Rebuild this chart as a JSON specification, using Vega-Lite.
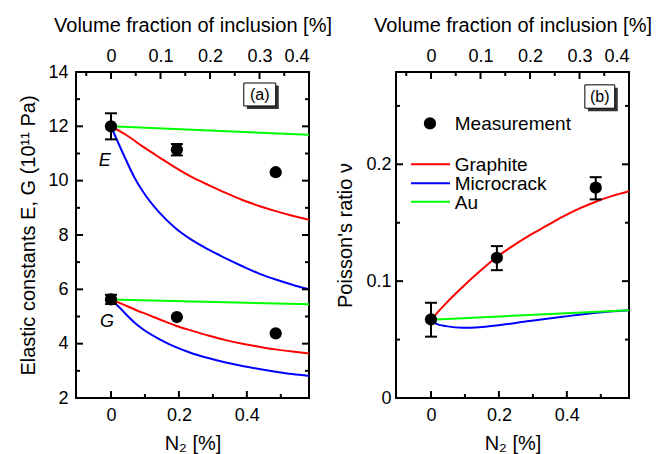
{
  "$schema": "https://vega.github.io/schema/vega-lite/v6.json",
  "padding": {"left": 17, "top": 14, "right": 5, "bottom": 0},
  "spacing": 1,
  "config": {
    "view": {"stroke": "black", "strokeWidth": 2},
    "font": "Liberation Sans",
    "axis": {"domain": false, "grid": false, "ticks": false, "labelFont": "Liberation Sans", "labelFontSize": 18, "labelColor": "black", "titleFont": "Liberation Sans", "titleFontSize": 20, "titleFontWeight": "normal", "titleColor": "black", "labelPadding": 8},
    "text": {"font": "Liberation Sans"},
    "tick": {"thickness": 2, "color": "black", "opacity": 1}
  },
  "datasets": {
    "ticksX": [
      {"v": 0, "kind": "major"}, {"v": 0.1, "kind": "minor"}, {"v": 0.2, "kind": "major"},
      {"v": 0.3, "kind": "minor"}, {"v": 0.4, "kind": "major"}, {"v": 0.5, "kind": "minor"}
    ],
    "ticksVol": [
      {"v": -0.05, "kind": "minor"}, {"v": 0, "kind": "major"}, {"v": 0.05, "kind": "minor"},
      {"v": 0.1, "kind": "major"}, {"v": 0.15, "kind": "minor"}, {"v": 0.2, "kind": "major"},
      {"v": 0.25, "kind": "minor"}, {"v": 0.3, "kind": "major"}, {"v": 0.35, "kind": "minor"}
    ],
    "ticksYA": [
      {"v": 3, "kind": "minor"}, {"v": 4, "kind": "major"}, {"v": 5, "kind": "minor"},
      {"v": 6, "kind": "major"}, {"v": 7, "kind": "minor"}, {"v": 8, "kind": "major"},
      {"v": 9, "kind": "minor"}, {"v": 10, "kind": "major"}, {"v": 11, "kind": "minor"},
      {"v": 12, "kind": "major"}, {"v": 13, "kind": "minor"}
    ],
    "ticksYB": [
      {"v": 0.05, "kind": "minor"}, {"v": 0.1, "kind": "major"}, {"v": 0.15, "kind": "minor"},
      {"v": 0.2, "kind": "major"}, {"v": 0.25, "kind": "minor"}
    ],
    "curvesA": [
      {"x": 0, "y": 12, "model": "Graphite", "prop": "E"},
      {"x": 0.044, "y": 11.69, "model": "Graphite", "prop": "E"},
      {"x": 0.093, "y": 11.26, "model": "Graphite", "prop": "E"},
      {"x": 0.142, "y": 10.86, "model": "Graphite", "prop": "E"},
      {"x": 0.191, "y": 10.47, "model": "Graphite", "prop": "E"},
      {"x": 0.24, "y": 10.12, "model": "Graphite", "prop": "E"},
      {"x": 0.289, "y": 9.83, "model": "Graphite", "prop": "E"},
      {"x": 0.338, "y": 9.55, "model": "Graphite", "prop": "E"},
      {"x": 0.387, "y": 9.29, "model": "Graphite", "prop": "E"},
      {"x": 0.436, "y": 9.07, "model": "Graphite", "prop": "E"},
      {"x": 0.485, "y": 8.88, "model": "Graphite", "prop": "E"},
      {"x": 0.534, "y": 8.71, "model": "Graphite", "prop": "E"},
      {"x": 0.583, "y": 8.56, "model": "Graphite", "prop": "E"},
      {"x": 0, "y": 12, "model": "Microcrack", "prop": "E"},
      {"x": 0.015, "y": 11.57, "model": "Microcrack", "prop": "E"},
      {"x": 0.044, "y": 10.77, "model": "Microcrack", "prop": "E"},
      {"x": 0.069, "y": 10.12, "model": "Microcrack", "prop": "E"},
      {"x": 0.093, "y": 9.62, "model": "Microcrack", "prop": "E"},
      {"x": 0.142, "y": 8.83, "model": "Microcrack", "prop": "E"},
      {"x": 0.191, "y": 8.24, "model": "Microcrack", "prop": "E"},
      {"x": 0.24, "y": 7.8, "model": "Microcrack", "prop": "E"},
      {"x": 0.289, "y": 7.45, "model": "Microcrack", "prop": "E"},
      {"x": 0.338, "y": 7.14, "model": "Microcrack", "prop": "E"},
      {"x": 0.387, "y": 6.85, "model": "Microcrack", "prop": "E"},
      {"x": 0.436, "y": 6.58, "model": "Microcrack", "prop": "E"},
      {"x": 0.485, "y": 6.36, "model": "Microcrack", "prop": "E"},
      {"x": 0.534, "y": 6.17, "model": "Microcrack", "prop": "E"},
      {"x": 0.583, "y": 6.0, "model": "Microcrack", "prop": "E"},
      {"x": 0, "y": 12, "model": "Au", "prop": "E"},
      {"x": 0.583, "y": 11.69, "model": "Au", "prop": "E"},
      {"x": 0, "y": 5.63, "model": "Au", "prop": "G"},
      {"x": 0.583, "y": 5.45, "model": "Au", "prop": "G"},
      {"x": 0, "y": 5.63, "model": "Graphite", "prop": "G"},
      {"x": 0.025, "y": 5.5, "model": "Graphite", "prop": "G"},
      {"x": 0.093, "y": 5.14, "model": "Graphite", "prop": "G"},
      {"x": 0.142, "y": 4.9, "model": "Graphite", "prop": "G"},
      {"x": 0.191, "y": 4.66, "model": "Graphite", "prop": "G"},
      {"x": 0.24, "y": 4.47, "model": "Graphite", "prop": "G"},
      {"x": 0.289, "y": 4.29, "model": "Graphite", "prop": "G"},
      {"x": 0.338, "y": 4.13, "model": "Graphite", "prop": "G"},
      {"x": 0.387, "y": 4.0, "model": "Graphite", "prop": "G"},
      {"x": 0.436, "y": 3.89, "model": "Graphite", "prop": "G"},
      {"x": 0.485, "y": 3.79, "model": "Graphite", "prop": "G"},
      {"x": 0.534, "y": 3.71, "model": "Graphite", "prop": "G"},
      {"x": 0.583, "y": 3.64, "model": "Graphite", "prop": "G"},
      {"x": 0, "y": 5.63, "model": "Microcrack", "prop": "G"},
      {"x": 0.025, "y": 5.33, "model": "Microcrack", "prop": "G"},
      {"x": 0.069, "y": 4.78, "model": "Microcrack", "prop": "G"},
      {"x": 0.093, "y": 4.54, "model": "Microcrack", "prop": "G"},
      {"x": 0.142, "y": 4.17, "model": "Microcrack", "prop": "G"},
      {"x": 0.191, "y": 3.87, "model": "Microcrack", "prop": "G"},
      {"x": 0.24, "y": 3.64, "model": "Microcrack", "prop": "G"},
      {"x": 0.289, "y": 3.46, "model": "Microcrack", "prop": "G"},
      {"x": 0.338, "y": 3.31, "model": "Microcrack", "prop": "G"},
      {"x": 0.387, "y": 3.18, "model": "Microcrack", "prop": "G"},
      {"x": 0.436, "y": 3.07, "model": "Microcrack", "prop": "G"},
      {"x": 0.485, "y": 2.97, "model": "Microcrack", "prop": "G"},
      {"x": 0.534, "y": 2.88, "model": "Microcrack", "prop": "G"},
      {"x": 0.583, "y": 2.81, "model": "Microcrack", "prop": "G"}
    ],
    "measA": [
      {"x": 0, "y": 12.0},
      {"x": 0.194, "y": 11.14},
      {"x": 0.485, "y": 10.31},
      {"x": 0, "y": 5.63},
      {"x": 0.194, "y": 4.98},
      {"x": 0.485, "y": 4.38}
    ],
    "errA": [
      {"x": 0, "lo": 11.52, "hi": 12.48},
      {"x": 0.194, "lo": 10.93, "hi": 11.35},
      {"x": 0, "lo": 5.46, "hi": 5.8}
    ],
    "labelsA": [
      {"x": -0.018, "y": 10.72, "t": "E"},
      {"x": -0.012, "y": 4.79, "t": "G"}
    ],
    "boxA": [
      {"x": 0.4, "x2": 0.494, "y": 13.5, "y2": 12.64, "kind": "shadow"},
      {"x": 0.391, "x2": 0.485, "y": 13.595, "y2": 12.75, "kind": "box"}
    ],
    "boxTextA": [{"x": 0.438, "y": 13.17, "t": "(a)"}],
    "curvesB": [
      {"x": 0, "y": 0.067, "model": "Graphite"},
      {"x": 0.044, "y": 0.081, "model": "Graphite"},
      {"x": 0.093, "y": 0.095, "model": "Graphite"},
      {"x": 0.142, "y": 0.108, "model": "Graphite"},
      {"x": 0.191, "y": 0.12, "model": "Graphite"},
      {"x": 0.24, "y": 0.13, "model": "Graphite"},
      {"x": 0.289, "y": 0.139, "model": "Graphite"},
      {"x": 0.338, "y": 0.147, "model": "Graphite"},
      {"x": 0.387, "y": 0.155, "model": "Graphite"},
      {"x": 0.436, "y": 0.162, "model": "Graphite"},
      {"x": 0.485, "y": 0.168, "model": "Graphite"},
      {"x": 0.534, "y": 0.173, "model": "Graphite"},
      {"x": 0.583, "y": 0.177, "model": "Graphite"},
      {"x": 0, "y": 0.067, "model": "Microcrack"},
      {"x": 0.02, "y": 0.063, "model": "Microcrack"},
      {"x": 0.044, "y": 0.0615, "model": "Microcrack"},
      {"x": 0.093, "y": 0.0601, "model": "Microcrack"},
      {"x": 0.142, "y": 0.0606, "model": "Microcrack"},
      {"x": 0.191, "y": 0.062, "model": "Microcrack"},
      {"x": 0.289, "y": 0.0658, "model": "Microcrack"},
      {"x": 0.387, "y": 0.0695, "model": "Microcrack"},
      {"x": 0.485, "y": 0.073, "model": "Microcrack"},
      {"x": 0.583, "y": 0.0752, "model": "Microcrack"},
      {"x": 0, "y": 0.067, "model": "Au"},
      {"x": 0.583, "y": 0.0752, "model": "Au"}
    ],
    "measB": [
      {"x": 0, "y": 0.0672},
      {"x": 0.194, "y": 0.12},
      {"x": 0.485, "y": 0.18}
    ],
    "errB": [
      {"x": 0, "lo": 0.0525, "hi": 0.0815},
      {"x": 0.194, "lo": 0.1094, "hi": 0.13},
      {"x": 0.485, "lo": 0.17, "hi": 0.189}
    ],
    "boxB": [
      {"x": 0.462, "x2": 0.55, "y": 0.2655, "y2": 0.2455, "kind": "shadow"},
      {"x": 0.453, "x2": 0.541, "y": 0.268, "y2": 0.248, "kind": "box"}
    ],
    "boxTextB": [{"x": 0.497, "y": 0.258, "t": "(b)"}],
    "legendDot": [{"x": -0.003, "y": 0.235}],
    "legendLines": [
      {"x": -0.059, "x2": 0.056, "y": 0.2, "model": "Graphite"},
      {"x": -0.059, "x2": 0.056, "y": 0.1838, "model": "Microcrack"},
      {"x": -0.059, "x2": 0.056, "y": 0.168, "model": "Au"}
    ],
    "legendText": [
      {"x": 0.07, "y": 0.235, "t": "Measurement"},
      {"x": 0.07, "y": 0.2, "t": "Graphite"},
      {"x": 0.07, "y": 0.1838, "t": "Microcrack"},
      {"x": 0.07, "y": 0.168, "t": "Au"}
    ]
  },
  "hconcat": [
    {
      "width": 233,
      "height": 326,
      "layer": [
        {
          "layer": [
            {
              "data": {"name": "curvesA"},
              "mark": {"type": "line", "strokeWidth": 2, "interpolate": "monotone"},
              "encoding": {
                "x": {"field": "x", "type": "quantitative", "scale": {"domain": [-0.103, 0.583], "nice": false, "zero": false},
                  "axis": {"orient": "bottom", "title": "N₂ [%]", "values": [0, 0.2, 0.4], "labelExpr": "datum.value == 0 ? '0' : format(datum.value, '.1f')", "titlePadding": 9}},
                "y": {"field": "y", "type": "quantitative", "scale": {"domain": [2, 14], "nice": false, "zero": false},
                  "axis": {"orient": "left", "title": "Elastic constants E, G (10¹¹ Pa)", "values": [2, 4, 6, 8, 10, 12, 14], "titlePadding": 9}},
                "color": {"field": "model", "type": "nominal", "scale": {"domain": ["Graphite", "Microcrack", "Au"], "range": ["#ff0000", "#0000ff", "#00ff00"]}, "legend": null},
                "detail": {"field": "prop"}
              }
            },
            {
              "data": {"name": "ticksX"},
              "transform": [{"filter": "datum.kind == 'major'"}],
              "mark": {"type": "tick", "orient": "vertical", "size": 7, "yOffset": -3.5},
              "encoding": {
                "x": {"field": "v", "type": "quantitative", "scale": {"domain": [-0.103, 0.583], "nice": false, "zero": false}},
                "y": {"datum": 2, "type": "quantitative", "scale": {"domain": [2, 14], "nice": false, "zero": false}}
              }
            },
            {
              "data": {"name": "ticksX"},
              "transform": [{"filter": "datum.kind == 'minor'"}],
              "mark": {"type": "tick", "orient": "vertical", "size": 4, "yOffset": -2},
              "encoding": {
                "x": {"field": "v", "type": "quantitative", "scale": {"domain": [-0.103, 0.583], "nice": false, "zero": false}},
                "y": {"datum": 2, "type": "quantitative", "scale": {"domain": [2, 14], "nice": false, "zero": false}}
              }
            },
            {
              "data": {"name": "ticksYA"},
              "transform": [{"filter": "datum.kind == 'major'"}],
              "mark": {"type": "tick", "orient": "horizontal", "size": 7, "xOffset": 3.5},
              "encoding": {
                "x": {"datum": -0.103, "type": "quantitative", "scale": {"domain": [-0.103, 0.583], "nice": false, "zero": false}},
                "y": {"field": "v", "type": "quantitative", "scale": {"domain": [2, 14], "nice": false, "zero": false}}
              }
            },
            {
              "data": {"name": "ticksYA"},
              "transform": [{"filter": "datum.kind == 'minor'"}],
              "mark": {"type": "tick", "orient": "horizontal", "size": 4, "xOffset": 2},
              "encoding": {
                "x": {"datum": -0.103, "type": "quantitative", "scale": {"domain": [-0.103, 0.583], "nice": false, "zero": false}},
                "y": {"field": "v", "type": "quantitative", "scale": {"domain": [2, 14], "nice": false, "zero": false}}
              }
            },
            {
              "data": {"name": "errA"},
              "mark": {"type": "rule", "strokeWidth": 2, "color": "black"},
              "encoding": {
                "x": {"field": "x", "type": "quantitative", "scale": {"domain": [-0.103, 0.583], "nice": false, "zero": false}},
                "y": {"field": "lo", "type": "quantitative", "scale": {"domain": [2, 14], "nice": false, "zero": false}},
                "y2": {"field": "hi"}
              }
            },
            {
              "data": {"name": "errA"},
              "mark": {"type": "tick", "orient": "horizontal", "size": 12},
              "encoding": {
                "x": {"field": "x", "type": "quantitative", "scale": {"domain": [-0.103, 0.583], "nice": false, "zero": false}},
                "y": {"field": "lo", "type": "quantitative", "scale": {"domain": [2, 14], "nice": false, "zero": false}}
              }
            },
            {
              "data": {"name": "errA"},
              "mark": {"type": "tick", "orient": "horizontal", "size": 12},
              "encoding": {
                "x": {"field": "x", "type": "quantitative", "scale": {"domain": [-0.103, 0.583], "nice": false, "zero": false}},
                "y": {"field": "hi", "type": "quantitative", "scale": {"domain": [2, 14], "nice": false, "zero": false}}
              }
            },
            {
              "data": {"name": "measA"},
              "mark": {"type": "circle", "size": 150, "color": "black", "opacity": 1},
              "encoding": {
                "x": {"field": "x", "type": "quantitative", "scale": {"domain": [-0.103, 0.583], "nice": false, "zero": false}},
                "y": {"field": "y", "type": "quantitative", "scale": {"domain": [2, 14], "nice": false, "zero": false}}
              }
            },
            {
              "data": {"name": "labelsA"},
              "mark": {"type": "text", "fontSize": 18, "fontStyle": "italic", "align": "center", "baseline": "middle", "color": "black"},
              "encoding": {
                "x": {"field": "x", "type": "quantitative", "scale": {"domain": [-0.103, 0.583], "nice": false, "zero": false}},
                "y": {"field": "y", "type": "quantitative", "scale": {"domain": [2, 14], "nice": false, "zero": false}},
                "text": {"field": "t"}
              }
            },
            {
              "data": {"name": "boxA"},
              "transform": [{"filter": "datum.kind == 'shadow'"}],
              "mark": {"type": "rect", "fill": "#333333"},
              "encoding": {
                "x": {"field": "x", "type": "quantitative", "scale": {"domain": [-0.103, 0.583], "nice": false, "zero": false}},
                "x2": {"field": "x2"},
                "y": {"field": "y", "type": "quantitative", "scale": {"domain": [2, 14], "nice": false, "zero": false}},
                "y2": {"field": "y2"}
              }
            },
            {
              "data": {"name": "boxA"},
              "transform": [{"filter": "datum.kind == 'box'"}],
              "mark": {"type": "rect", "fill": "white", "stroke": "black", "strokeWidth": 1},
              "encoding": {
                "x": {"field": "x", "type": "quantitative", "scale": {"domain": [-0.103, 0.583], "nice": false, "zero": false}},
                "x2": {"field": "x2"},
                "y": {"field": "y", "type": "quantitative", "scale": {"domain": [2, 14], "nice": false, "zero": false}},
                "y2": {"field": "y2"}
              }
            },
            {
              "data": {"name": "boxTextA"},
              "mark": {"type": "text", "fontSize": 16, "align": "center", "baseline": "middle", "color": "black"},
              "encoding": {
                "x": {"field": "x", "type": "quantitative", "scale": {"domain": [-0.103, 0.583], "nice": false, "zero": false}},
                "y": {"field": "y", "type": "quantitative", "scale": {"domain": [2, 14], "nice": false, "zero": false}},
                "text": {"field": "t"}
              }
            }
          ]
        },
        {
          "layer": [
            {
              "data": {"name": "ticksVol"},
              "transform": [{"filter": "datum.kind == 'major'"}],
              "mark": {"type": "tick", "orient": "vertical", "size": 7, "yOffset": 3.5},
              "encoding": {
                "x": {"field": "v", "type": "quantitative", "scale": {"domain": [-0.0707, 0.4], "nice": false, "zero": false},
                  "axis": {"orient": "top", "title": "Volume fraction of inclusion [%]", "values": [0, 0.1, 0.2, 0.3, 0.4], "labelExpr": "datum.value == 0 ? '0' : format(datum.value, '.1f')", "labelPadding": 7, "titlePadding": 12}},
                "y": {"datum": 14, "type": "quantitative", "scale": {"domain": [2, 14], "nice": false, "zero": false},
                  "axis": {"orient": "right", "title": null, "labels": false}}
              }
            },
            {
              "data": {"name": "ticksVol"},
              "transform": [{"filter": "datum.kind == 'minor'"}],
              "mark": {"type": "tick", "orient": "vertical", "size": 4, "yOffset": 2},
              "encoding": {
                "x": {"field": "v", "type": "quantitative", "scale": {"domain": [-0.0707, 0.4], "nice": false, "zero": false}},
                "y": {"datum": 14, "type": "quantitative", "scale": {"domain": [2, 14], "nice": false, "zero": false}}
              }
            },
            {
              "data": {"name": "ticksYA"},
              "transform": [{"filter": "datum.kind == 'major'"}],
              "mark": {"type": "tick", "orient": "horizontal", "size": 7, "xOffset": -3.5},
              "encoding": {
                "x": {"datum": 0.4, "type": "quantitative", "scale": {"domain": [-0.0707, 0.4], "nice": false, "zero": false}},
                "y": {"field": "v", "type": "quantitative", "scale": {"domain": [2, 14], "nice": false, "zero": false}}
              }
            },
            {
              "data": {"name": "ticksYA"},
              "transform": [{"filter": "datum.kind == 'minor'"}],
              "mark": {"type": "tick", "orient": "horizontal", "size": 4, "xOffset": -2},
              "encoding": {
                "x": {"datum": 0.4, "type": "quantitative", "scale": {"domain": [-0.0707, 0.4], "nice": false, "zero": false}},
                "y": {"field": "v", "type": "quantitative", "scale": {"domain": [2, 14], "nice": false, "zero": false}}
              }
            }
          ]
        }
      ],
      "resolve": {"scale": {"x": "independent"}, "axis": {"x": "independent", "y": "independent"}}
    },
    {
      "width": 233,
      "height": 326,
      "layer": [
        {
          "layer": [
            {
              "data": {"name": "curvesB"},
              "mark": {"type": "line", "strokeWidth": 2, "interpolate": "monotone"},
              "encoding": {
                "x": {"field": "x", "type": "quantitative", "scale": {"domain": [-0.103, 0.583], "nice": false, "zero": false},
                  "axis": {"orient": "bottom", "title": "N₂ [%]", "values": [0, 0.2, 0.4], "labelExpr": "datum.value == 0 ? '0' : format(datum.value, '.1f')", "titlePadding": 9}},
                "y": {"field": "y", "type": "quantitative", "scale": {"domain": [0, 0.279], "nice": false, "zero": false},
                  "axis": {"orient": "left", "title": "Poisson's ratio ν", "values": [0, 0.1, 0.2], "labelExpr": "datum.value == 0 ? '0' : format(datum.value, '.1f')", "labelPadding": 5, "titlePadding": 10}},
                "color": {"field": "model", "type": "nominal", "scale": {"domain": ["Graphite", "Microcrack", "Au"], "range": ["#ff0000", "#0000ff", "#00ff00"]}, "legend": null}
              }
            },
            {
              "data": {"name": "ticksX"},
              "transform": [{"filter": "datum.kind == 'major'"}],
              "mark": {"type": "tick", "orient": "vertical", "size": 7, "yOffset": -3.5},
              "encoding": {
                "x": {"field": "v", "type": "quantitative", "scale": {"domain": [-0.103, 0.583], "nice": false, "zero": false}},
                "y": {"datum": 0, "type": "quantitative", "scale": {"domain": [0, 0.279], "nice": false, "zero": false}}
              }
            },
            {
              "data": {"name": "ticksX"},
              "transform": [{"filter": "datum.kind == 'minor'"}],
              "mark": {"type": "tick", "orient": "vertical", "size": 4, "yOffset": -2},
              "encoding": {
                "x": {"field": "v", "type": "quantitative", "scale": {"domain": [-0.103, 0.583], "nice": false, "zero": false}},
                "y": {"datum": 0, "type": "quantitative", "scale": {"domain": [0, 0.279], "nice": false, "zero": false}}
              }
            },
            {
              "data": {"name": "ticksYB"},
              "transform": [{"filter": "datum.kind == 'major'"}],
              "mark": {"type": "tick", "orient": "horizontal", "size": 7, "xOffset": 3.5},
              "encoding": {
                "x": {"datum": -0.103, "type": "quantitative", "scale": {"domain": [-0.103, 0.583], "nice": false, "zero": false}},
                "y": {"field": "v", "type": "quantitative", "scale": {"domain": [0, 0.279], "nice": false, "zero": false}}
              }
            },
            {
              "data": {"name": "ticksYB"},
              "transform": [{"filter": "datum.kind == 'minor'"}],
              "mark": {"type": "tick", "orient": "horizontal", "size": 4, "xOffset": 2},
              "encoding": {
                "x": {"datum": -0.103, "type": "quantitative", "scale": {"domain": [-0.103, 0.583], "nice": false, "zero": false}},
                "y": {"field": "v", "type": "quantitative", "scale": {"domain": [0, 0.279], "nice": false, "zero": false}}
              }
            },
            {
              "data": {"name": "errB"},
              "mark": {"type": "rule", "strokeWidth": 2, "color": "black"},
              "encoding": {
                "x": {"field": "x", "type": "quantitative", "scale": {"domain": [-0.103, 0.583], "nice": false, "zero": false}},
                "y": {"field": "lo", "type": "quantitative", "scale": {"domain": [0, 0.279], "nice": false, "zero": false}},
                "y2": {"field": "hi"}
              }
            },
            {
              "data": {"name": "errB"},
              "mark": {"type": "tick", "orient": "horizontal", "size": 12},
              "encoding": {
                "x": {"field": "x", "type": "quantitative", "scale": {"domain": [-0.103, 0.583], "nice": false, "zero": false}},
                "y": {"field": "lo", "type": "quantitative", "scale": {"domain": [0, 0.279], "nice": false, "zero": false}}
              }
            },
            {
              "data": {"name": "errB"},
              "mark": {"type": "tick", "orient": "horizontal", "size": 12},
              "encoding": {
                "x": {"field": "x", "type": "quantitative", "scale": {"domain": [-0.103, 0.583], "nice": false, "zero": false}},
                "y": {"field": "hi", "type": "quantitative", "scale": {"domain": [0, 0.279], "nice": false, "zero": false}}
              }
            },
            {
              "data": {"name": "measB"},
              "mark": {"type": "circle", "size": 150, "color": "black", "opacity": 1},
              "encoding": {
                "x": {"field": "x", "type": "quantitative", "scale": {"domain": [-0.103, 0.583], "nice": false, "zero": false}},
                "y": {"field": "y", "type": "quantitative", "scale": {"domain": [0, 0.279], "nice": false, "zero": false}}
              }
            },
            {
              "data": {"name": "legendDot"},
              "mark": {"type": "circle", "size": 150, "color": "black", "opacity": 1},
              "encoding": {
                "x": {"field": "x", "type": "quantitative", "scale": {"domain": [-0.103, 0.583], "nice": false, "zero": false}},
                "y": {"field": "y", "type": "quantitative", "scale": {"domain": [0, 0.279], "nice": false, "zero": false}}
              }
            },
            {
              "data": {"name": "legendLines"},
              "mark": {"type": "rule", "strokeWidth": 2},
              "encoding": {
                "x": {"field": "x", "type": "quantitative", "scale": {"domain": [-0.103, 0.583], "nice": false, "zero": false}},
                "x2": {"field": "x2"},
                "y": {"field": "y", "type": "quantitative", "scale": {"domain": [0, 0.279], "nice": false, "zero": false}},
                "color": {"field": "model", "type": "nominal", "scale": {"domain": ["Graphite", "Microcrack", "Au"], "range": ["#ff0000", "#0000ff", "#00ff00"]}, "legend": null}
              }
            },
            {
              "data": {"name": "legendText"},
              "mark": {"type": "text", "fontSize": 19, "align": "left", "baseline": "middle", "color": "black", "dy": 1},
              "encoding": {
                "x": {"field": "x", "type": "quantitative", "scale": {"domain": [-0.103, 0.583], "nice": false, "zero": false}},
                "y": {"field": "y", "type": "quantitative", "scale": {"domain": [0, 0.279], "nice": false, "zero": false}},
                "text": {"field": "t"}
              }
            },
            {
              "data": {"name": "boxB"},
              "transform": [{"filter": "datum.kind == 'shadow'"}],
              "mark": {"type": "rect", "fill": "#333333"},
              "encoding": {
                "x": {"field": "x", "type": "quantitative", "scale": {"domain": [-0.103, 0.583], "nice": false, "zero": false}},
                "x2": {"field": "x2"},
                "y": {"field": "y", "type": "quantitative", "scale": {"domain": [0, 0.279], "nice": false, "zero": false}},
                "y2": {"field": "y2"}
              }
            },
            {
              "data": {"name": "boxB"},
              "transform": [{"filter": "datum.kind == 'box'"}],
              "mark": {"type": "rect", "fill": "white", "stroke": "black", "strokeWidth": 1},
              "encoding": {
                "x": {"field": "x", "type": "quantitative", "scale": {"domain": [-0.103, 0.583], "nice": false, "zero": false}},
                "x2": {"field": "x2"},
                "y": {"field": "y", "type": "quantitative", "scale": {"domain": [0, 0.279], "nice": false, "zero": false}},
                "y2": {"field": "y2"}
              }
            },
            {
              "data": {"name": "boxTextB"},
              "mark": {"type": "text", "fontSize": 16, "align": "center", "baseline": "middle", "color": "black"},
              "encoding": {
                "x": {"field": "x", "type": "quantitative", "scale": {"domain": [-0.103, 0.583], "nice": false, "zero": false}},
                "y": {"field": "y", "type": "quantitative", "scale": {"domain": [0, 0.279], "nice": false, "zero": false}},
                "text": {"field": "t"}
              }
            }
          ]
        },
        {
          "layer": [
            {
              "data": {"name": "ticksVol"},
              "transform": [{"filter": "datum.kind == 'major'"}],
              "mark": {"type": "tick", "orient": "vertical", "size": 7, "yOffset": 3.5},
              "encoding": {
                "x": {"field": "v", "type": "quantitative", "scale": {"domain": [-0.0707, 0.4], "nice": false, "zero": false},
                  "axis": {"orient": "top", "title": "Volume fraction of inclusion [%]", "values": [0, 0.1, 0.2, 0.3, 0.4], "labelExpr": "datum.value == 0 ? '0' : format(datum.value, '.1f')", "labelPadding": 7, "titlePadding": 12}},
                "y": {"datum": 0.279, "type": "quantitative", "scale": {"domain": [0, 0.279], "nice": false, "zero": false},
                  "axis": {"orient": "right", "title": null, "labels": false}}
              }
            },
            {
              "data": {"name": "ticksVol"},
              "transform": [{"filter": "datum.kind == 'minor'"}],
              "mark": {"type": "tick", "orient": "vertical", "size": 4, "yOffset": 2},
              "encoding": {
                "x": {"field": "v", "type": "quantitative", "scale": {"domain": [-0.0707, 0.4], "nice": false, "zero": false}},
                "y": {"datum": 0.279, "type": "quantitative", "scale": {"domain": [0, 0.279], "nice": false, "zero": false}}
              }
            },
            {
              "data": {"name": "ticksYB"},
              "transform": [{"filter": "datum.kind == 'major'"}],
              "mark": {"type": "tick", "orient": "horizontal", "size": 7, "xOffset": -3.5},
              "encoding": {
                "x": {"datum": 0.4, "type": "quantitative", "scale": {"domain": [-0.0707, 0.4], "nice": false, "zero": false}},
                "y": {"field": "v", "type": "quantitative", "scale": {"domain": [0, 0.279], "nice": false, "zero": false}}
              }
            },
            {
              "data": {"name": "ticksYB"},
              "transform": [{"filter": "datum.kind == 'minor'"}],
              "mark": {"type": "tick", "orient": "horizontal", "size": 4, "xOffset": -2},
              "encoding": {
                "x": {"datum": 0.4, "type": "quantitative", "scale": {"domain": [-0.0707, 0.4], "nice": false, "zero": false}},
                "y": {"field": "v", "type": "quantitative", "scale": {"domain": [0, 0.279], "nice": false, "zero": false}}
              }
            }
          ]
        }
      ],
      "resolve": {"scale": {"x": "independent"}, "axis": {"x": "independent", "y": "independent"}}
    }
  ]
}
